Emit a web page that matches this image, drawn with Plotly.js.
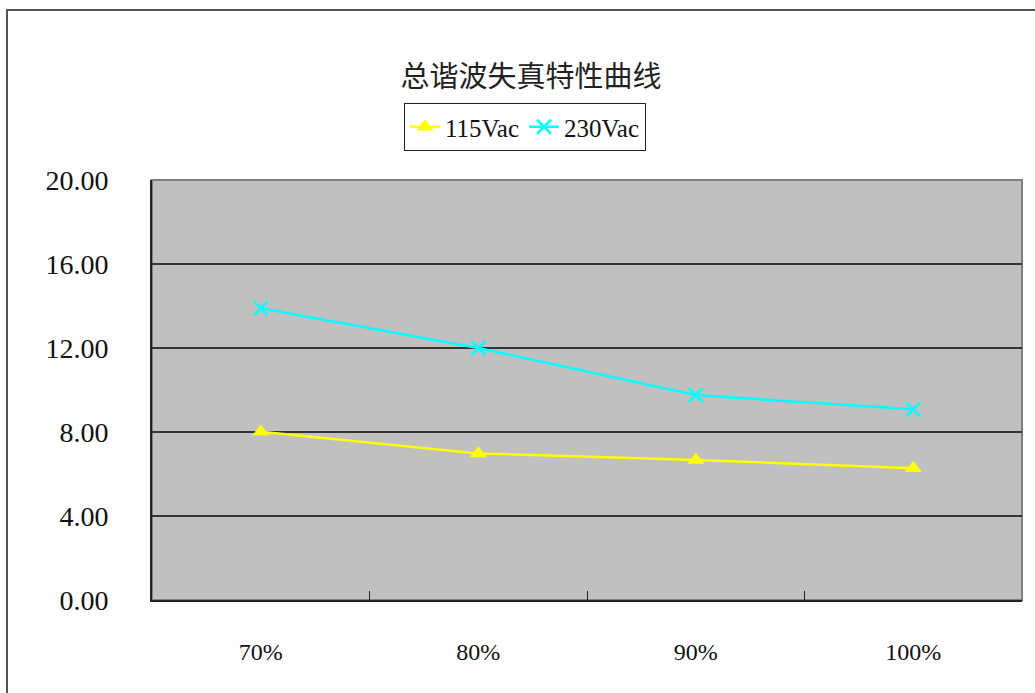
<!DOCTYPE html>
<html>
<head>
<meta charset="utf-8">
<script src="https://cdn.plot.ly/plotly-3.0.1.min.js"></script>
<style>
html,body{margin:0;padding:0;background:#fff;}
#wrap{position:relative;width:1035px;height:693px;overflow:hidden;}
#chart{position:absolute;left:0;top:0;width:1035px;height:693px;}
#frame{position:absolute;left:6px;top:9px;width:1100px;height:800px;border-left:2px solid #555;border-top:2px solid #555;pointer-events:none;}
</style>
</head>
<body>
<div id="wrap"><div id="chart"></div><div id="frame"></div></div>
<script>
const categories = ['70%', '80%', '90%', '100%'];
const series115 = [8.01, 6.98, 6.67, 6.27];
const series230 = [13.89, 12.0, 9.76, 9.08];
const seriesNames = ['115Vac', '230Vac'];
const yTicks = [0, 4, 8, 12, 16, 20];

const serif = 'Liberation Serif, DejaVu Serif, serif';

const traces = [
  {
    x: categories, y: series115, name: seriesNames[0], type: 'scatter', mode: 'lines+markers',
    line: {color: '#FFFF00', width: 2.5},
    marker: {symbol: 'triangle-up', size: 15, color: '#FFFF00'}
  },
  {
    x: categories, y: series230, name: seriesNames[1], type: 'scatter', mode: 'lines+markers',
    line: {color: '#00FFFF', width: 2.5},
    marker: {symbol: 'x-thin-open', size: 14, color: '#00FFFF', line: {color: '#00FFFF', width: 2.5}}
  }
];

const layout = {
  width: 1035, height: 693,
  margin: {l: 152, r: 13, t: 180, b: 93},
  paper_bgcolor: 'rgba(0,0,0,0)',
  plot_bgcolor: '#C0C0C0',
  showlegend: true,
  title: {
    text: '总谐波失真特性曲线',
    font: {family: 'Noto Sans CJK SC, sans-serif', size: 29, color: '#222'},
    x: 531 / 1035, xanchor: 'center', xref: 'container',
    y: 1 - 77 / 693, yanchor: 'middle', yref: 'container'
  },
  legend: {
    orientation: 'h',
    x: 525 / 1035, xref: 'container', xanchor: 'center',
    y: (693 - 103) / 693, yref: 'container', yanchor: 'top',
    bgcolor: '#FFFFFF', bordercolor: '#222', borderwidth: 1,
    font: {family: serif, size: 25, color: '#111'},
    itemwidth: 30, tracegroupgap: 0
  },
  xaxis: {
    type: 'category', categoryorder: 'array', categoryarray: categories,
    range: [-0.5, 3.5],
    tickson: 'boundaries', ticks: 'inside', ticklen: 9, tickcolor: '#222', tickwidth: 1,
    showgrid: false, zeroline: false,
    showline: true, linecolor: '#222', linewidth: 2,
    ticklabelstandoff: 29,
    tickfont: {family: serif, size: 24, color: '#111'}
  },
  yaxis: {
    range: [0, 20], tickvals: yTicks, tickformat: '.2f',
    showgrid: true, gridcolor: '#333', gridwidth: 1.5,
    zeroline: false, showline: true, linecolor: '#222', linewidth: 2,
    ticks: '', ticklabelstandoff: 36,
    tickfont: {family: serif, size: 28, color: '#111'}
  },
  shapes: [
    {type: 'rect', xref: 'paper', yref: 'paper', x0: 0, x1: 1, y0: 0, y1: 1,
     line: {color: '#808080', width: 2}, layer: 'below'}
  ]
};

Plotly.newPlot('chart', traces, layout, {displayModeBar: false, staticPlot: true});
</script>
</body>
</html>
